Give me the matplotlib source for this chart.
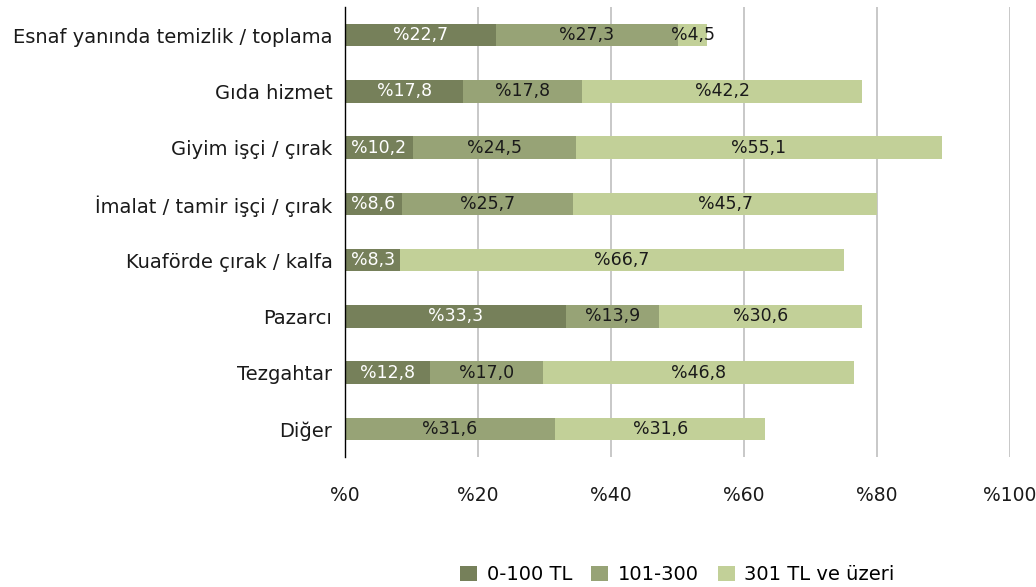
import matplotlib
matplotlib.use("Agg")
import matplotlib.pyplot as plt
import numpy as np

plt.rcParams['font.family'] = ['DejaVu Sans']

categories = ["Esnaf yanında temizlik / toplama", "Gıda hizmet", "Giyim işçi / çırak",
              "İmalat / tamir işçi / çırak", "Kuaförde çırak / kalfa", "Pazarcı",
              "Tezgahtar", "Diğer"]
series_names = ["0-100 TL", "101-300", "301 TL ve üzeri"]
s_0_100 = [22.7, 17.8, 10.2, 8.6, 8.3, 33.3, 12.8, 0.0]
s_101_300 = [27.3, 17.8, 24.5, 25.7, 0.0, 13.9, 17.0, 31.6]
s_301_up = [4.5, 42.2, 55.1, 45.7, 66.7, 30.6, 46.8, 31.6]
x_ticks = [0, 20, 40, 60, 80, 100]
x_tick_labels = ["%0", "%20", "%40", "%60", "%80", "%100"]

colors = ["#76805A", "#97A376", "#C2D098"]
text_colors = ["white", "#1a1a1a", "#1a1a1a"]

fig = plt.figure(figsize=(10.36, 5.87), dpi=100)
ax = fig.add_axes([0.333, 0.2215, 0.642, 0.7665])

y = np.arange(len(categories))
left = np.zeros(len(categories))
handles = []
for vals, name, c, tc in zip([s_0_100, s_101_300, s_301_up], series_names, colors, text_colors):
    vals = np.array(vals)
    bars = ax.barh(y, vals, left=left, height=0.4, color=c, label=name, edgecolor='none')
    handles.append(bars)
    for yi, (l, v) in enumerate(zip(left, vals)):
        if v > 0:
            ax.text(l + v / 2, yi, ("%" + f"{v:.1f}").replace(".", ","), ha='center', va='center',
                    fontsize=12.5, color=tc)
    left = left + vals

ax.set_ylim(len(categories) - 0.5, -0.5)
ax.set_xlim(0, 100)
ax.set_yticks(y)
ax.set_yticklabels(categories, fontsize=14, color="#1a1a1a")
ax.set_xticks(x_ticks)
ax.set_xticklabels(x_tick_labels, fontsize=13.5, color="#1a1a1a")
ax.tick_params(axis='both', length=0)
ax.tick_params(axis='y', pad=9)
ax.tick_params(axis='x', pad=21)
ax.xaxis.grid(True, color="#BFBFBF", linewidth=1.2)
ax.set_axisbelow(True)
for s in ['top', 'right', 'bottom']:
    ax.spines[s].set_visible(False)
ax.spines['left'].set_color('black')
ax.spines['left'].set_linewidth(1.0)

fig.legend(handles=handles, labels=series_names, loc='lower center', bbox_to_anchor=(0.654, -0.025),
           ncol=3, frameon=False, fontsize=14, handlelength=0.85, handleheight=0.85,
           columnspacing=1.0, handletextpad=0.5)

fig.savefig("out.png", dpi=100)
